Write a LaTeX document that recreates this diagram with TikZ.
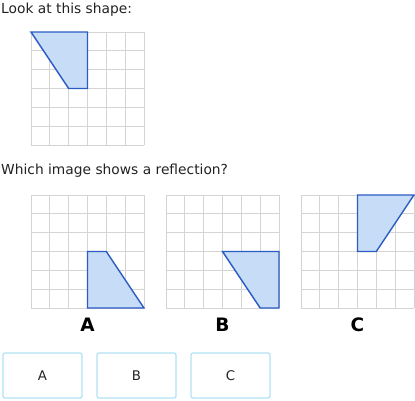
\documentclass[tikz,border=0pt]{standalone}
\usepackage{fontspec}
\setmainfont{DejaVu Sans}
\definecolor{gridgray}{HTML}{D4D4D4}
\definecolor{piecefill}{HTML}{C7DCF6}
\definecolor{pieceblue}{HTML}{2B5CC2}
\definecolor{btnedge}{HTML}{B0E2F4}
\definecolor{inktext}{HTML}{222222}
\begin{document}
\begin{tikzpicture}[x=1pt,y=-1pt]
  \tikzstyle{cellgrid}=[draw=gridgray, line width=0.8pt]
  \tikzstyle{piece}=[fill=piecefill, draw=pieceblue, line width=1.4pt, line join=miter]
  \tikzstyle{prompt}=[anchor=base west, inner sep=0pt, font=\fontsize{13.8}{16}\selectfont, text=inktext]
  \tikzstyle{choice}=[inner sep=0pt, font=\fontsize{18.5}{22}\selectfont\bfseries, text=black]
  \tikzstyle{button}=[draw=btnedge, line width=1.3pt, rounded corners=2pt, minimum width=79pt, minimum height=45pt, font=\fontsize{13.3}{16}\selectfont, text=inktext]

  \useasboundingbox (0,0) rectangle (415,400);

  \node[prompt] (look) at (1,13) {Look at this shape:};
  \node[prompt] (which) at (1,174) {Which image shows a reflection?};

  % the four grids
  \foreach \gx/\gy in {31/32, 31/195, 166/195, 301/195} {
    \foreach \i in {0,...,6} {
      \draw[cellgrid] (\gx+\i*18.83,\gy) -- (\gx+\i*18.83,\gy+113);
      \draw[cellgrid] (\gx,\gy+\i*18.83) -- (\gx+113,\gy+\i*18.83);
    }
  }

  % shapes, in cell units
  \begin{scope}[shift={(31,32)}, x=18.83pt, y=-18.83pt]
    \draw[piece] (0,0) -- (3,0) -- (3,3) -- (2,3) -- cycle;
  \end{scope}
  \begin{scope}[shift={(31,195)}, x=18.83pt, y=-18.83pt]
    \draw[piece] (3,3) -- (4,3) -- (6,6) -- (3,6) -- cycle;
  \end{scope}
  \begin{scope}[shift={(166,195)}, x=18.83pt, y=-18.83pt]
    \draw[piece] (3,3) -- (6,3) -- (6,6) -- (5,6) -- cycle;
  \end{scope}
  \begin{scope}[shift={(301,195)}, x=18.83pt, y=-18.83pt]
    \draw[piece] (3,0) -- (6,0) -- (4,3) -- (3,3) -- cycle;
  \end{scope}

  \node[choice] (labA) at (87.5,325) {A};
  \node[choice] (labB) at (222.5,325) {B};
  \node[choice] (labC) at (357.5,325) {C};

  \node[button] (btnA) at (42.5,375.5) {A};
  \node[button] (btnB) at (136.5,375.5) {B};
  \node[button] (btnC) at (230.5,375.5) {C};
\end{tikzpicture}
\end{document}
